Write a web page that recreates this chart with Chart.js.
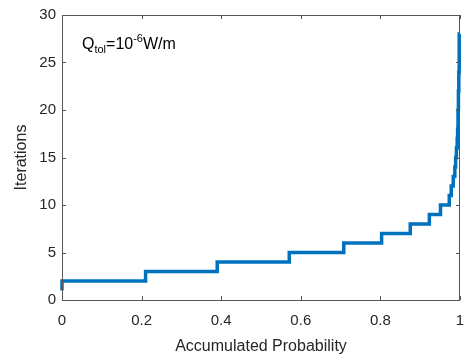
<!DOCTYPE html>
<html>
<head>
<meta charset="utf-8">
<script src="https://cdn.jsdelivr.net/npm/chart.js@4"></script>
<style>
  html, body { margin: 0; padding: 0; background: #fff; }
  #wrap { width: 464px; height: 356px; }
</style>
</head>
<body>
<div id="wrap"><canvas id="grafico"></canvas></div>
<script>
// nivel de iteraciones y probabilidad acumulada donde termina cada escalón
const iteraciones = [1, 2, 3, 4, 5, 6, 7, 8, 9, 10, 11, 12, 13, 14, 15, 16, 17, 18, 20, 22, 24, 28];
const probAcumulada = [0, 0.21, 0.39, 0.571, 0.708, 0.803, 0.875, 0.923, 0.951, 0.973, 0.978, 0.983, 0.987, 0.989, 0.991, 0.993, 0.994, 0.995, 0.996, 0.997, 0.998, 1.0];
const ticksX = [0, 0.2, 0.4, 0.6, 0.8, 1];
const ticksY = [0, 5, 10, 15, 20, 25, 30];

const COLOR_TEXTO = '#262626';
const COLOR_EJE = '#555555';
const FUENTE = '"Liberation Sans", Arial, sans-serif';

const puntos = probAcumulada.map((p, i) => ({ x: p, y: iteraciones[i] }));

// caja completa con marcas hacia adentro (estilo MATLAB)
const cajaMatlab = {
    id: 'cajaMatlab',
    afterDraw(chart) {
        const { ctx, chartArea: a, scales } = chart;
        ctx.save();
        ctx.strokeStyle = COLOR_EJE;
        ctx.lineWidth = 1;
        ctx.strokeRect(a.left + 0.5, a.top + 0.5, a.right - a.left - 1, a.bottom - a.top);
        const largo = 4;
        ctx.beginPath();
        ticksX.forEach(v => {
            const px = Math.round(scales.x.getPixelForValue(v)) + 0.5;
            ctx.moveTo(px, a.bottom); ctx.lineTo(px, a.bottom - largo);
            ctx.moveTo(px, a.top); ctx.lineTo(px, a.top + largo);
        });
        ticksY.forEach(v => {
            const py = Math.round(scales.y.getPixelForValue(v)) + 0.5;
            ctx.moveTo(a.left, py); ctx.lineTo(a.left + largo, py);
            ctx.moveTo(a.right, py); ctx.lineTo(a.right - largo, py);
        });
        ctx.stroke();

        // anotación Q_tol
        ctx.fillStyle = '#000';
        ctx.textBaseline = 'alphabetic';
        ctx.textAlign = 'left';
        let x = a.left + 20, y = a.top + 34;
        ctx.font = '16px ' + FUENTE;
        ctx.fillText('Q', x, y); x += ctx.measureText('Q').width;
        ctx.font = '11px ' + FUENTE;
        ctx.fillText('tol', x, y + 4); x += ctx.measureText('tol').width;
        ctx.font = '16px ' + FUENTE;
        ctx.fillText('=10', x, y); x += ctx.measureText('=10').width;
        ctx.font = '11px ' + FUENTE;
        ctx.fillText('-6', x, y - 7); x += ctx.measureText('-6').width;
        ctx.font = '16px ' + FUENTE;
        ctx.fillText('W/m', x, y);
        ctx.restore();
    }
};

new Chart(document.getElementById('grafico'), {
    type: 'line',
    data: {
        datasets: [{
            data: puntos,
            stepped: 'after',
            borderColor: '#0072BD',
            borderWidth: 3.5,
            pointRadius: 0,
            fill: false,
            clip: 2
        }]
    },
    options: {
        responsive: true,
        maintainAspectRatio: false,
        animation: false,
        layout: { padding: { top: 12, right: 0, left: 0, bottom: 0 } },
        plugins: { legend: { display: false }, tooltip: { enabled: false } },
        scales: {
            x: {
                type: 'linear',
                min: 0, max: 1,
                afterBuildTicks: s => { s.ticks = ticksX.map(v => ({ value: v })); },
                afterFit: s => { s.height = 56; s.paddingRight = 4; },
                grid: { display: false, drawTicks: false },
                border: { display: false },
                ticks: {
                    color: COLOR_TEXTO, padding: 12,
                    font: { family: FUENTE, size: 15 },
                    callback: v => String(v)
                },
                title: {
                    display: true, text: 'Accumulated Probability', color: COLOR_TEXTO,
                    font: { family: FUENTE, size: 16 }, padding: { top: 2, bottom: 0 }
                }
            },
            y: {
                min: 0, max: 30,
                afterBuildTicks: s => { s.ticks = ticksY.map(v => ({ value: v })); },
                afterFit: s => { s.width = 62; },
                grid: { display: false, drawTicks: false },
                border: { display: false },
                ticks: {
                    color: COLOR_TEXTO, padding: 6,
                    font: { family: FUENTE, size: 15 }
                },
                title: {
                    display: true, text: 'Iterations', color: COLOR_TEXTO,
                    font: { family: FUENTE, size: 16 }, padding: { top: 12, bottom: 0 }
                }
            }
        }
    },
    plugins: [cajaMatlab]
});
</script>
</body>
</html>
